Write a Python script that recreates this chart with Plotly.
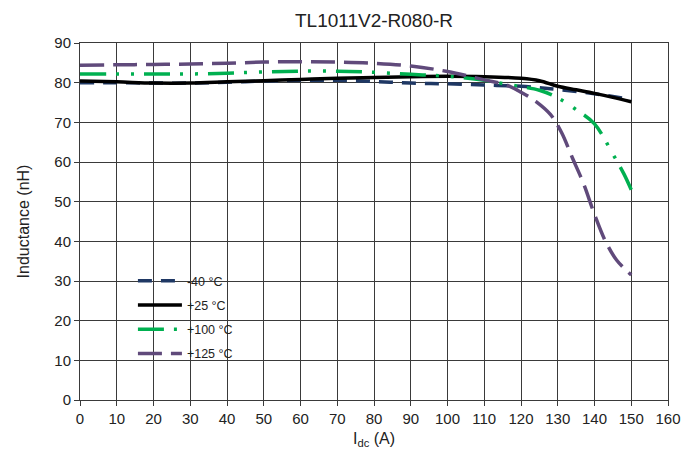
import plotly.graph_objects as go

title = "TL1011V2-R080-R"

# -40 °C
x_m40 = [0, 10, 20, 30, 40, 50, 60, 70, 80, 90, 100, 110, 120, 125, 130, 140, 150]
y_m40 = [80.0, 80.0, 79.9, 79.9, 80.1, 80.4, 80.6, 80.6, 80.3, 79.9, 79.7, 79.4, 79.1, 78.7, 78.3, 77.2, 75.8]

# +25 °C
x_p25 = [0, 10, 20, 30, 40, 50, 60, 70, 80, 90, 100, 110, 120, 125, 130, 135, 140, 145, 150]
y_p25 = [80.4, 80.2, 79.9, 79.9, 80.2, 80.5, 80.8, 81.1, 81.3, 81.5, 81.6, 81.5, 81.1, 80.5, 79.1, 78.2, 77.3, 76.3, 75.2]

# +100 °C
x_p100 = [0, 10, 20, 30, 40, 50, 60, 70, 80, 90, 100, 110, 115, 120, 125, 130, 135, 140, 145, 148, 150]
y_p100 = [82.2, 82.2, 82.2, 82.2, 82.4, 82.7, 82.9, 82.9, 82.6, 82.1, 81.6, 80.6, 79.8, 79.0, 78.1, 76.2, 73.2, 69.6, 62.0, 57.0, 53.0]

# +125 °C
x_p125 = [0, 10, 20, 30, 40, 50, 60, 70, 80, 90, 100, 110, 116, 120, 124, 128, 131, 134, 137, 140, 143, 146, 150]
y_p125 = [84.4, 84.5, 84.6, 84.7, 84.9, 85.2, 85.3, 85.2, 84.9, 84.2, 82.8, 80.7, 79.4, 77.6, 75.3, 72.0, 67.5, 61.0, 54.6, 46.8, 40.0, 35.3, 31.5]

x_ticks = list(range(0, 161, 10))
y_ticks = list(range(0, 91, 10))

fig = go.Figure()
fig.add_trace(go.Scatter(x=x_m40, y=y_m40, mode="lines", name="-40 °C", legendgroup="a",
                         line=dict(color="#1F3864", width=3.5, dash="14px,9px"), line_shape="spline"))
fig.add_trace(go.Scatter(x=x_p25, y=y_p25, mode="lines", name="+25 °C", legendgroup="b",
                         line=dict(color="#000000", width=3.5), line_shape="spline"))
fig.add_trace(go.Scatter(x=x_p100, y=y_p100, mode="lines", name="+100 °C", legendgroup="c",
                         line=dict(color="#00B050", width=3.5, dash="26px,10px,3px,12px,3px,10px"), line_shape="spline"))
fig.add_trace(go.Scatter(x=x_p125, y=y_p125, mode="lines", name="+125 °C", legendgroup="d",
                         line=dict(color="#604A7B", width=3.5, dash="24px,9px"), line_shape="spline"))

axis_common = dict(showgrid=True, gridcolor="#3a3a3a", gridwidth=1, showline=True, linecolor="#3a3a3a",
                   linewidth=1, mirror=True, ticks="outside", ticklen=5, tickcolor="#3a3a3a",
                   zeroline=False, tickfont=dict(size=15, color="#222222"))

# page body has an 8px margin, so the figure is sized to fill the rest of the window
W, H = 689, 451
L, R, T, B = 72, 29, 35, 59

fig.update_layout(
    width=W, height=H,
    margin=dict(l=L, r=R, t=T, b=B),
    paper_bgcolor="white", plot_bgcolor="white",
    font=dict(family="Liberation Sans, Arial, sans-serif", color="#222222"),
    title=dict(text=title, x=(L + (W - R)) / 2 / W, xanchor="center", y=1 - 12 / H, yanchor="middle",
               font=dict(size=19, color="#222222")),
    xaxis=dict(range=[0, 160], tickvals=x_ticks, title=dict(text="I<sub>dc</sub> (A)", font=dict(size=16), standoff=6),
               **axis_common),
    yaxis=dict(range=[0, 90], tickvals=y_ticks, title=dict(text="Inductance (nH)", font=dict(size=16), standoff=20),
               **axis_common),
    legend=dict(x=0.09, y=0.375, xanchor="left", yanchor="top", bgcolor="rgba(0,0,0,0)",
                font=dict(size=12.5, color="#222222"), traceorder="grouped", tracegroupgap=5,
                itemwidth=44),
    showlegend=True,
)

fig.write_html("out.html")
